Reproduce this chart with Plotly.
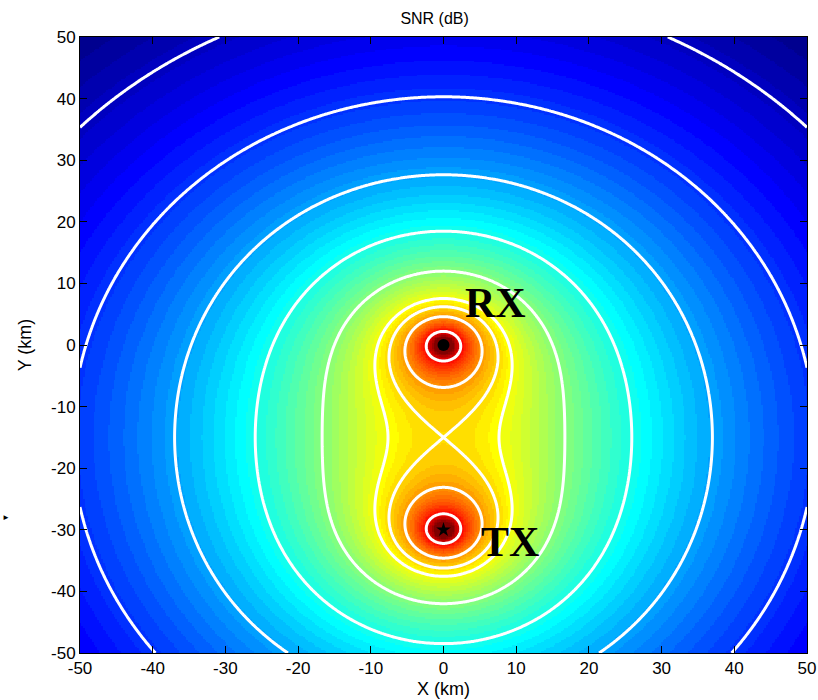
import numpy as np
import plotly.graph_objects as go

# Bistatic geometry (km)
tx_pos = (0.0, -30.0)
rx_pos = (0.0, 0.0)

# SNR at the baseline midpoint, dB
snr_mid_db = 15.0

# White iso-SNR lines, dB
outer_levels_db = [-12, -7, -2, 3, 8, 13]
inner_levels_db = [15, 18, 25]

# Colour limits of the map, dB
color_min_db = -14.5
color_max_db = 30.5

x_ticks = list(range(-50, 51, 10))
y_ticks = list(range(-50, 51, 10))


def snr_db(xs, ys):
    X, Y = np.meshgrid(xs, ys)
    rt = np.hypot(X - tx_pos[0], Y - tx_pos[1])
    rr = np.hypot(X - rx_pos[0], Y - rx_pos[1])
    rt = np.maximum(rt, 0.05)
    rr = np.maximum(rr, 0.05)
    half_base = 0.5 * np.hypot(tx_pos[0] - rx_pos[0], tx_pos[1] - rx_pos[1])
    return snr_mid_db - 20.0 * np.log10(rt * rr / half_base ** 2)


def jet(n=64):
    out = []
    for i in range(n):
        v = (i + 1) / n
        r = min(max(1.5 - abs(4 * v - 3), 0), 1)
        g = min(max(1.5 - abs(4 * v - 2), 0), 1)
        b = min(max(1.5 - abs(4 * v - 1), 0), 1)
        c = f"rgb({int(round(r*255))},{int(round(g*255))},{int(round(b*255))})"
        out.append([i / n, c])
        out.append([(i + 1) / n, c])
    return out


# full map
xs = np.linspace(-50, 50, 401)
ys = np.linspace(-50, 50, 401)
Z = snr_db(xs, ys).astype(np.float32)
Zc = np.clip(Z, color_min_db, color_max_db).astype(np.float32)

# finer window around the two sites for the high-SNR lines
xf = np.linspace(-16, 16, 257)
yf = np.linspace(-42, 12, 433)
Zf = np.clip(snr_db(xf, yf), -60, 80).astype(np.float32)

fig = go.Figure()
fig.add_trace(go.Heatmap(
    x=xs, y=ys, z=Zc, colorscale=jet(64), zmin=color_min_db, zmax=color_max_db,
    showscale=False, zsmooth=False, hoverinfo="skip"))

step = outer_levels_db[1] - outer_levels_db[0]
fig.add_trace(go.Contour(
    x=xs, y=ys, z=Z, showscale=False, hoverinfo="skip",
    contours=dict(start=outer_levels_db[0], end=outer_levels_db[-1], size=step,
                  coloring="none"),
    line=dict(color="white", width=3, smoothing=1)))

for lev in inner_levels_db:
    fig.add_trace(go.Contour(
        x=xf, y=yf, z=Zf, showscale=False, hoverinfo="skip",
        contours=dict(start=lev, end=lev, size=1, coloring="none"),
        line=dict(color="white", width=3, smoothing=1)))

# site markers
fig.add_trace(go.Scatter(x=[rx_pos[0]], y=[rx_pos[1]], mode="markers",
                         marker=dict(symbol="circle", size=12, color="black"),
                         hoverinfo="skip"))
fig.add_trace(go.Scatter(x=[tx_pos[0]], y=[tx_pos[1]], mode="markers",
                         marker=dict(symbol="star", size=11, color="black"),
                         hoverinfo="skip"))

label_font = dict(family="Liberation Serif, Times New Roman, serif", size=42, color="black")
fig.add_annotation(x=7.1, y=6.8, text="<b>RX</b>", showarrow=False, font=label_font,
                   xanchor="center", yanchor="middle")
fig.add_annotation(x=9.2, y=-32.0, text="<b>TX</b>", showarrow=False, font=label_font,
                   xanchor="center", yanchor="middle")

# small marker glyph at the left page edge
fig.add_annotation(xref="paper", yref="paper", x=-80 / 727, y=(653 - 516) / 616,
                   text="►", showarrow=False, xanchor="left", yanchor="middle",
                   font=dict(size=8, color="black"))

sans = "Liberation Sans, Arial, sans-serif"
axis_font = dict(family=sans, size=17, color="black")
common = dict(showgrid=False, zeroline=False, showline=True, linecolor="black",
              linewidth=1, mirror="ticks", ticks="inside", ticklen=7, tickwidth=1,
              tickcolor="black", tickfont=axis_font, automargin=False)

fig.update_layout(
    width=818, height=700,
    margin=dict(l=80, r=11, t=37, b=47),
    paper_bgcolor="white", plot_bgcolor="white",
    showlegend=False,
    title=dict(text="SNR (dB)", x=0.5313, xanchor="center", y=1 - 18 / 700,
               yanchor="middle", automargin=False,
               font=dict(family=sans, size=16, color="black")),
    xaxis=dict(range=[-50, 50], tickvals=x_ticks, ticktext=[str(t) for t in x_ticks],
               title=dict(text="X (km)", standoff=4,
                          font=dict(family=sans, size=18, color="black")),
               **common),
    yaxis=dict(range=[-50, 50], tickvals=y_ticks, ticktext=[str(t) for t in y_ticks],
               title=dict(text="Y (km)", standoff=14,
                          font=dict(family=sans, size=18, color="black")),
               **common),
)

fig.write_html("out.html")
